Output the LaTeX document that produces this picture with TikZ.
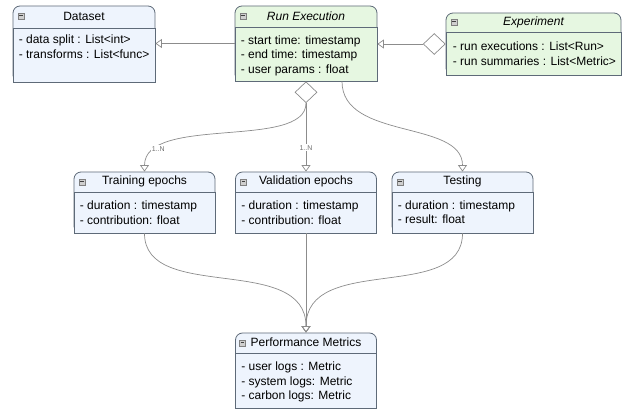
\documentclass[tikz,border=0pt]{standalone}
\usepackage{fontspec}
\setmainfont{Liberation Sans}
\usetikzlibrary{positioning}
\usetikzlibrary{shapes.geometric}
\usetikzlibrary{arrows.meta}

\definecolor{boxline}{HTML}{5E6A78}
\definecolor{bluefill}{HTML}{EEF4FD}
\definecolor{greenfill}{HTML}{E6F7E1}
\definecolor{wire}{HTML}{8C8C8C}
\definecolor{iconfill}{HTML}{CFCFCF}

\tikzset{
  classbox/.style={draw=boxline, line width=0.8pt, rounded corners=7pt, inner sep=0pt},
  bodybox/.style={draw=boxline, line width=0.8pt, inner sep=0pt},
  classtitle/.style={font=\fontsize{12}{14}\selectfont, inner sep=0pt},
  attrs/.style={font=\fontsize{12}{14.5}\selectfont, align=left, inner sep=0pt},
  icon/.style={draw=gray, fill=iconfill, minimum size=6pt, inner sep=0pt,
    path picture={\draw[black!75, line width=0.9pt] ([xshift=1.2pt]path picture bounding box.west) -- ([xshift=-1.2pt]path picture bounding box.east);}},
  gen/.style={draw=wire, line width=0.7pt, -{Triangle[open, length=6.5pt, width=9pt]}},
  agg/.style={diamond, draw=wire, fill=white, line width=0.7pt, inner sep=0pt, minimum width=22pt, minimum height=21pt},
  mult/.style={font=\fontsize{7}{8}\selectfont, text=wire!80!black, fill=white, inner sep=1pt}
}

\begin{document}
\begin{tikzpicture}[x=1pt, y=-1pt]
\useasboundingbox (0,0) rectangle (627,411);

% Dataset (class)
\node[classbox, fill=bluefill, minimum width=142pt, minimum height=76pt] (dataset) at (84,44) {};
\node[bodybox, fill=bluefill, minimum width=142pt, minimum height=54pt, anchor=south] (dataset body) at (dataset.south) {};
\node[icon, below right=7pt and 5pt of dataset.north west] (dataset icon) {};
\node[classtitle] (dataset title) at ([yshift=-11pt]dataset.north) {Dataset};
\node[attrs, below right=7.5pt and 6pt of dataset body.north west] (dataset attrs) {- data split : List<int>\\- transforms : List<func>};

% Run Execution (class)
\node[classbox, fill=greenfill, minimum width=142pt, minimum height=75pt] (run) at (306,43.5) {};
\node[bodybox, fill=greenfill, minimum width=142pt, minimum height=54pt, anchor=south] (run body) at (run.south) {};
\node[icon, below right=7pt and 5pt of run.north west] (run icon) {};
\node[classtitle, font=\fontsize{12}{14}\selectfont\itshape] (run title) at ([yshift=-10.5pt]run.north) {Run Execution};
\node[attrs, below right=9pt and 6pt of run body.north west] (run attrs) {- start time: timestamp\\- end time: timestamp\\- user params : float};

% Experiment (class)
\node[classbox, fill=greenfill, minimum width=175pt, minimum height=62pt] (experiment) at (533.5,44) {};
\node[bodybox, fill=greenfill, minimum width=175pt, minimum height=43pt, anchor=south] (experiment body) at (experiment.south) {};
\node[icon, below right=6pt and 5pt of experiment.north west] (experiment icon) {};
\node[classtitle, font=\fontsize{12}{14}\selectfont\itshape] (experiment title) at ([yshift=-9.5pt]experiment.north) {Experiment};
\node[attrs, below right=10.5pt and 7pt of experiment body.north west] (experiment attrs) {- run executions : List<Run>\\- run summaries : List<Metric>};

% Training epochs (class)
\node[classbox, fill=bluefill, minimum width=141pt, minimum height=61pt] (training) at (144.5,202.5) {};
\node[bodybox, fill=bluefill, minimum width=141pt, minimum height=41pt, anchor=south] (training body) at (training.south) {};
\node[icon, below right=7pt and 5pt of training.north west] (training icon) {};
\node[classtitle] (training title) at ([yshift=-10pt]training.north) {Training epochs};
\node[attrs, below right=9.5pt and 6pt of training body.north west] (training attrs) {- duration : timestamp\\- contribution: float};

% Validation epochs (class)
\node[classbox, fill=bluefill, minimum width=141pt, minimum height=61pt] (validation) at (306,202.5) {};
\node[bodybox, fill=bluefill, minimum width=141pt, minimum height=41pt, anchor=south] (validation body) at (validation.south) {};
\node[icon, below right=7pt and 5pt of validation.north west] (validation icon) {};
\node[classtitle] (validation title) at ([yshift=-10pt]validation.north) {Validation epochs};
\node[attrs, below right=9.5pt and 6pt of validation body.north west] (validation attrs) {- duration : timestamp\\- contribution: float};

% Testing (class)
\node[classbox, fill=bluefill, minimum width=141pt, minimum height=61pt] (testing) at (462.5,202.5) {};
\node[bodybox, fill=bluefill, minimum width=141pt, minimum height=41pt, anchor=south] (testing body) at (testing.south) {};
\node[icon, below right=7pt and 5pt of testing.north west] (testing icon) {};
\node[classtitle] (testing title) at ([yshift=-10pt]testing.north) {Testing};
\node[attrs, below right=9pt and 6pt of testing body.north west] (testing attrs) {- duration : timestamp\\- result: float};

% Performance Metrics (class)
\node[classbox, fill=bluefill, minimum width=141pt, minimum height=75pt] (perf) at (306,370.5) {};
\node[bodybox, fill=bluefill, minimum width=141pt, minimum height=55pt, anchor=south] (perf body) at (perf.south) {};
\node[icon, below right=7pt and 4pt of perf.north west] (perf icon) {};
\node[classtitle] (perf title) at ([yshift=-10pt]perf.north) {Performance Metrics};
\node[attrs, below right=9.5pt and 6pt of perf body.north west] (perf attrs) {- user logs : Metric\\- system logs: Metric\\- carbon logs: Metric};

% Aggregation diamonds
\node[agg, left=0pt of experiment] (experiment agg) {};
\node[agg, below=0pt of run] (run agg) {};

% Arrows between classes
\draw[gen] (run.west) -- (run.west -| dataset.east);
\draw[gen] (experiment agg.west) -- (experiment agg.west -| run.east);
\draw[gen] (run agg.south) .. controls +(0,47) and +(0,-57) .. node[mult, pos=0.82] (training mult) {1..N} (training.north);
\draw[gen] (run agg.south) -- node[mult, pos=0.65] (validation mult) {1..N} (validation.north);
\draw[gen] ([xshift=36pt]run.south) .. controls +(0,59) and +(0,-52) .. (testing.north);

% Merge into the metrics
\draw[gen] (training.south) .. controls +(0,70) and +(0,-80) .. (perf.north);
\draw[gen] (validation.south) -- (perf.north);
\draw[gen] (testing.south) .. controls +(0,70) and +(0,-80) .. (perf.north);
\end{tikzpicture}
\end{document}
